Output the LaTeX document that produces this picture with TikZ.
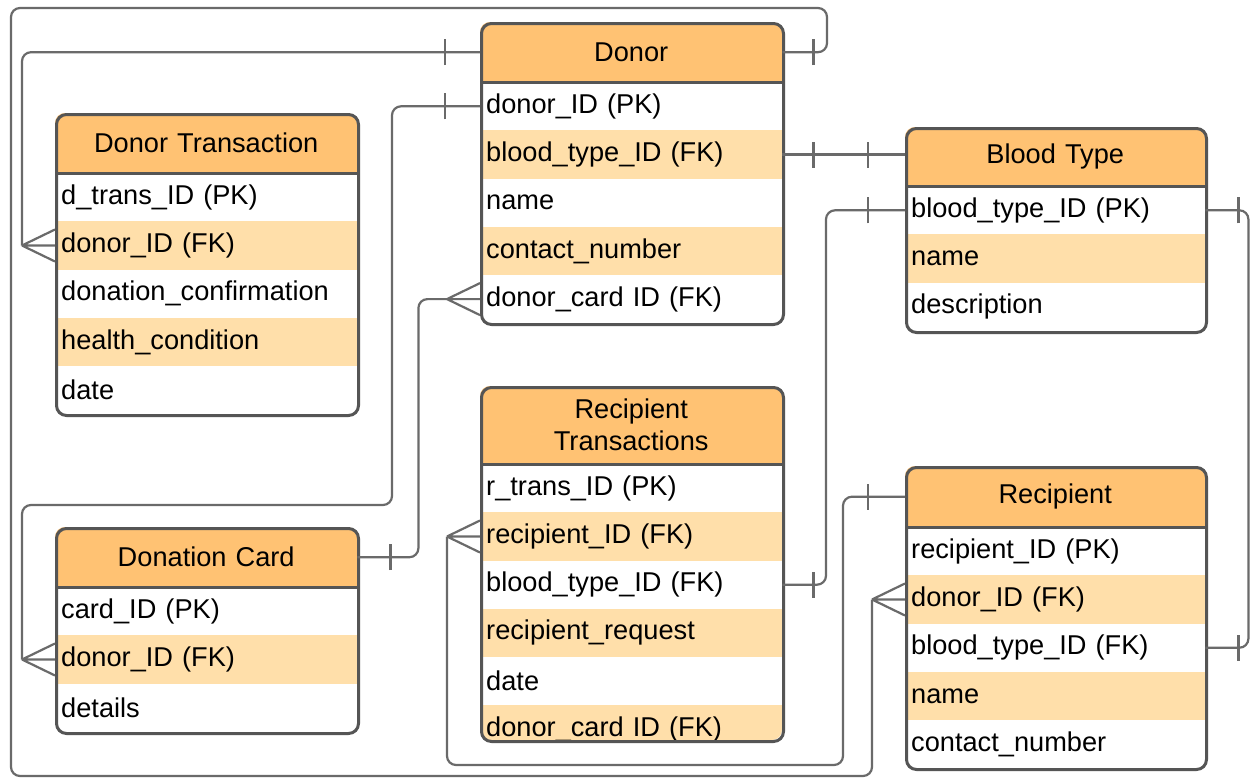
\documentclass[tikz,border=0pt]{standalone}
\usepackage{fontspec}
\setmainfont{Liberation Sans}
\usetikzlibrary{calc}
\definecolor{hdrc}{HTML}{FFC273}
\definecolor{shade}{HTML}{FFDFAA}
\definecolor{bordc}{HTML}{555555}
\definecolor{connc}{HTML}{6A6A6A}
\tikzset{
  erfont/.style={font=\fontsize{27.2pt}{32pt}\selectfont},
  hdr/.style={erfont, fill=hdrc, align=center, inner xsep=6pt, inner ysep=0pt},
  rowc/.style={erfont, align=left, inner xsep=6pt, inner ysep=0pt, minimum height=48.2pt},
  tbl/.style={draw=bordc, line width=3pt, rounded corners=10pt, rectangle, inner sep=0pt},
  tblline/.style={draw=bordc, line width=3pt},
  conn/.style={draw=connc, line width=2.2pt, rounded corners=9pt},
  barl/.style={draw=connc, line width=2.2pt},
}
\newcommand\ertable[8]{%
  \pgfmathsetmacro\ertw{#4-12}%
  \begin{scope}
    \clip[rounded corners=10pt] (#2,#3) rectangle ++(#4,#8);
    \node[hdr, text width=\ertw pt, minimum height=#5, anchor=north west] (#1-h) at (#2,#3) {#6};
    \foreach \t/\c [count=\i] in {#7} {
      \node[rowc, fill=\c, text width=\ertw pt, anchor=north west] (#1-\i) at (#2, #3+#5+\i*48.2-48.2) {\t};
    }
  \end{scope}
  \node[tbl, minimum width=#4, minimum height=#8, anchor=north west] (#1) at (#2,#3) {};
  \draw[tblline] (#1-h.south west) -- (#1-h.south east);
}
\newcommand\barat[2]{\draw[barl] ([xshift=#2]#1) ++(0,13) -- ++(0,-26);}
\newcommand\crow[1]{\draw[barl] ([xshift=-33pt]#1.west) coordinate (tmp) -- ([yshift=16pt]#1.west) (tmp) -- (#1.west) (tmp) -- ([yshift=-16pt]#1.west);}
\begin{document}
\begin{tikzpicture}[x=1pt,y=-1pt]
\fill[white] (0,0) rectangle (1251,779);
\useasboundingbox (0,0) rectangle (1251,779);

\ertable{donor}{480}{22}{302}{60}{Donor}{donor\_ID (PK)/white, blood\_type\_ID (FK)/shade, name/white, contact\_number/shade, donor\_card ID (FK)/white}{301}
\ertable{dtrans}{55}{113}{302}{60}{Donor Transaction}{d\_trans\_ID (PK)/white, donor\_ID (FK)/shade, donation\_confirmation/white, health\_condition/shade, date/white}{301}
\ertable{btype}{905}{127}{300}{59}{Blood Type}{blood\_type\_ID (PK)/white, name/shade, description/white}{204}
\ertable{dcard}{55}{527}{302}{60}{Donation Card}{card\_ID (PK)/white, donor\_ID (FK)/shade, details/white}{205}
\ertable{rt}{480}{386}{302}{78}{Recipient\\Transactions}{r\_trans\_ID (PK)/white, recipient\_ID (FK)/shade, blood\_type\_ID (FK)/white, recipient\_request/shade, date/white, donor\_card ID (FK)/shade}{354}
\ertable{recip}{905}{466}{300}{61}{Recipient}{recipient\_ID (PK)/white, donor\_ID (FK)/shade, blood\_type\_ID (FK)/white, name/shade, contact\_number/white}{302}

% Donor -> Recipient (outer loop)
\draw[conn] (donor-h.east) -| (827,8) -| (11,776) -| ([xshift=-33pt]recip-2.west);
\barat{donor-h.east}{31pt}
\crow{recip-2}
% Donor -> Donor Transaction
\draw[conn] (donor-h.west) -| ([xshift=-33pt]dtrans-2.west);
\barat{donor-h.west}{-35pt}
\crow{dtrans-2}
% Donor donor_ID -> Donation Card
\draw[conn] (donor-1.west) -| (392,505) -| ([xshift=-33pt]dcard-2.west);
\barat{donor-1.west}{-35pt}
\crow{dcard-2}
% Donation Card -> Donor donor_card
\draw[conn] (dcard-h.east) -- ++(61,0) |- ([xshift=-33pt]donor-5.west);
\barat{dcard-h.east}{33pt}
\crow{donor-5}
% Donor blood type -> Blood Type
\draw[conn] (donor-2.east) -- (donor-2.east -| btype-h.west);
\barat{donor-2.east}{31pt}
\draw[barl] ([xshift=-37pt]donor-2.east -| btype-h.west) ++(0,13) -- ++(0,-26);
% Blood Type -> Recipient Transactions
\draw[conn] (btype-1.west) -- ++(-79,0) |- (rt-3.east);
\barat{btype-1.west}{-37pt}
\barat{rt-3.east}{31pt}
% Blood Type -> Recipient
\draw[conn] (btype-1.east) -- ++(43,0) |- (recip-3.east);
\barat{btype-1.east}{33pt}
\barat{recip-3.east}{33pt}
% Recipient -> Recipient Transactions
\draw[conn] (recip-h.west) -| (843,765) -| ([xshift=-33pt]rt-2.west);
\barat{recip-h.west}{-37pt}
\crow{rt-2}
\end{tikzpicture}
\end{document}
